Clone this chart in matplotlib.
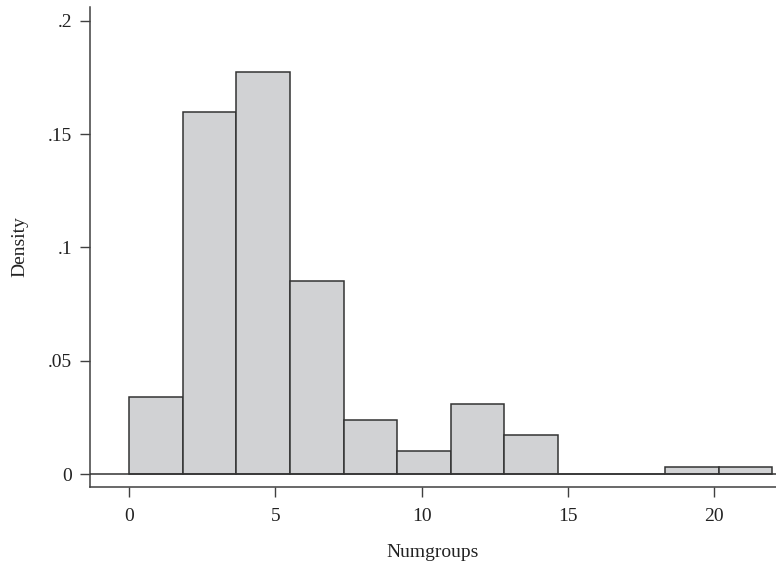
# Histogram of Numgroups (density)

import matplotlib
matplotlib.use("Agg")
import matplotlib.pyplot as plt

# bin edges and densities
bin_edges = [0, 1.8333, 3.6667, 5.5, 7.3333, 9.1667, 11, 12.8333,
             14.6667, 16.5, 18.3333, 20.1667, 22]
density = [0.0341, 0.160, 0.1773, 0.0852, 0.0238, 0.0101, 0.0309, 0.0172,
           0.0, 0.0, 0.0032, 0.0032]

x_ticks = [0, 5, 10, 15, 20]
y_ticks = [0, 0.05, 0.1, 0.15, 0.2]
y_labels = ["0", ".05", ".1", ".15", ".2"]

plt.rcParams["font.family"] = ["Liberation Serif", "DejaVu Serif"]

fig = plt.figure(figsize=(7.76, 5.68), dpi=100)
ax = fig.add_axes([90 / 776, (568 - 486.7) / 568, (776 - 90) / 776, (486.7 - 7.3) / 568])

lefts = bin_edges[:-1]
widths = [b - a for a, b in zip(bin_edges[:-1], bin_edges[1:])]
ax.bar(lefts, density, width=widths, align="edge",
       color="#d1d2d4", edgecolor="#333333", linewidth=1.1, zorder=2)
ax.axhline(0, color="#333333", linewidth=1.1, zorder=3)

ax.set_xlim(-1.344, 22.12)
ax.set_ylim(-0.0056, 0.206)

ax.set_xticks(x_ticks)
ax.set_yticks(y_ticks)
ax.set_yticklabels(y_labels)

for side in ["top", "right"]:
    ax.spines[side].set_visible(False)
for side in ["left", "bottom"]:
    ax.spines[side].set_color("#404040")
    ax.spines[side].set_linewidth(1.1)

ax.tick_params(axis="both", direction="out", length=7, width=1.0,
               color="#404040", labelsize=14, labelcolor="#222222")
ax.tick_params(axis="x", pad=8)
ax.tick_params(axis="y", pad=6)

ax.set_xlabel("Numgroups", fontsize=14, color="#222222", labelpad=14)
ax.set_ylabel("Density", fontsize=14, color="#222222", labelpad=14)

fig.savefig("out.png", dpi=100)
